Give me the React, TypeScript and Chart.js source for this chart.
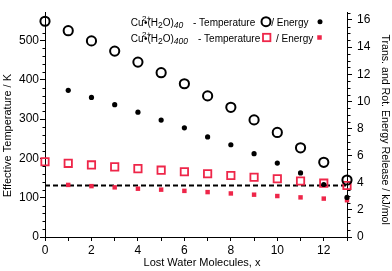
import React, { useEffect, useRef } from 'react';
import { Chart, registerables } from 'chart.js';

Chart.register(...registerables);

// ---- data ----
const lostWater = [0, 1, 2, 3, 4, 5, 6, 7, 8, 9, 10, 11, 12, 13];
const tempH2O40 = [549, 525, 499, 473, 445, 418, 390, 359, 330, 298, 266, 227, 190, 145];
const energyH2O40 = [null, 10.81, 10.29, 9.75, 9.2, 8.62, 8.05, 7.38, 6.8, 6.14, 5.45, 4.72, 3.87, 2.92];
const tempH2O400 = [191.5, 187.5, 183.4, 178.5, 174, 170, 166, 161, 156.5, 152, 148.3, 142.5, 137, 131];
const energyH2O400 = [null, 3.84, 3.75, 3.66, 3.56, 3.49, 3.4, 3.31, 3.21, 3.12, 3.02, 2.92, 2.83, 2.71];
const referenceLineX = [0, 13];
const referenceLineTemp = [131, 131];

const xTicks = [0, 2, 4, 6, 8, 10, 12];
const leftTicks = [0, 100, 200, 300, 400, 500];
const rightTicks = [0, 2, 4, 6, 8, 10, 12, 14, 16];

const xTitle = 'Lost Water Molecules, x';
const leftTitle = 'Effective Temperature / K';
const rightTitle = 'Trans. and Rot. Energy Release / kJ/mol';

const FONT = "'Liberation Sans', Arial, Helvetica, sans-serif";
const RED = '#ee2649';
const BLACK = '#000000';

const pts = (xs: number[], ys: (number | null)[]) =>
  xs.map((x, i) => ({ x, y: ys[i] as number })).filter((p) => p.y !== null);

// minor tick marks
const minorTicksPlugin = {
  id: 'minorTicks',
  afterDraw(chart: any) {
    const c = chart.ctx;
    const yl = chart.scales.y;
    const yr = chart.scales.y2;
    c.save();
    c.strokeStyle = BLACK;
    c.lineWidth = 1;
    for (let v = 20; v <= yl.max; v += 20) {
      if (v % 100 === 0) continue;
      const py = Math.round(yl.getPixelForValue(v)) + 0.5;
      const px = Math.round(yl.right) + 0.5;
      c.beginPath();
      c.moveTo(px - 3, py);
      c.lineTo(px, py);
      c.stroke();
    }
    for (let v = 0.5; v <= yr.max; v += 0.5) {
      if (Math.abs(v % 2) < 1e-6) continue;
      const py = Math.round(yr.getPixelForValue(v)) + 0.5;
      const px = Math.round(yr.left) + 0.5;
      c.beginPath();
      c.moveTo(px, py);
      c.lineTo(px + 3, py);
      c.stroke();
    }
    c.restore();
  },
};

// axis titles
const titlesPlugin = {
  id: 'axisTitles',
  afterDraw(chart: any) {
    const c = chart.ctx;
    const a = chart.chartArea;
    const midX = (a.left + a.right) / 2;
    const midY = (a.top + a.bottom) / 2;
    c.save();
    c.fillStyle = BLACK;
    c.textAlign = 'center';
    c.textBaseline = 'middle';
    c.font = `11px ${FONT}`;
    c.fillText(xTitle, midX + 6, chart.height - 8);
    c.save();
    c.translate(8, midY + 11);
    c.rotate(-Math.PI / 2);
    c.fillText(leftTitle, 0, 0);
    c.restore();
    c.font = `10.6px ${FONT}`;
    c.save();
    c.translate(chart.width - 7, midY + 5);
    c.rotate(Math.PI / 2);
    c.fillText(rightTitle, 0, 0);
    c.restore();
    c.restore();
  },
};

type Part = { t?: string; size?: number; dy?: number; italic?: boolean; dx?: number; at?: number; noAdvance?: boolean; marker?: string };

// "at" = offset from the legend's left edge
const legendLine1: Part[] = [
  { t: 'Cu' },
  { t: '2+', size: 8, dy: -5, dx: -1.5, noAdvance: true },
  { t: '\u2022(H', dx: 2 },
  { t: '2', size: 8.5, dy: 2.5 },
  { t: 'O)' },
  { t: '40', size: 8.5, dy: 2.5, italic: true },
  { t: '- Temperature', at: 62.3 },
  { marker: 'circle', at: 135.3 },
  { t: '/ Energy', at: 140.5 },
  { marker: 'dot', at: 189.3 },
];
const legendLine2: Part[] = [
  { t: 'Cu' },
  { t: '2+', size: 8, dy: -5, dx: -1.5, noAdvance: true },
  { t: '\u2022(H', dx: 2 },
  { t: '2', size: 8.5, dy: 2.5 },
  { t: 'O)' },
  { t: '400', size: 8.5, dy: 2.5, italic: true },
  { t: '- Temperature', at: 67.3 },
  { marker: 'square', at: 136 },
  { t: '/ Energy', at: 145.3 },
  { marker: 'smallSquare', at: 188.8 },
];

const legendPlugin = {
  id: 'customLegend',
  afterDraw(chart: any) {
    const c = chart.ctx;
    const startX = chart.chartArea.left + 85.7;
    const lines: [Part[], number][] = [
      [legendLine1, chart.chartArea.top + 13.5],
      [legendLine2, chart.chartArea.top + 29.3],
    ];
    c.save();
    c.textBaseline = 'alphabetic';
    c.textAlign = 'left';
    for (const [parts, base] of lines) {
      let x = startX;
      for (const p of parts) {
        if (p.marker) {
          const cx = startX + (p.at || 0);
          const cy = base - 4;
          if (p.marker === 'circle') {
            c.beginPath();
            c.arc(cx, cy, 4.5, 0, Math.PI * 2);
            c.lineWidth = 2;
            c.strokeStyle = BLACK;
            c.stroke();
          } else if (p.marker === 'dot') {
            c.beginPath();
            c.arc(cx, cy, 2.5, 0, Math.PI * 2);
            c.fillStyle = BLACK;
            c.fill();
          } else if (p.marker === 'square') {
            const s = 7.4;
            c.lineWidth = 1.8;
            c.strokeStyle = RED;
            c.strokeRect(cx - s / 2, cy - s / 2, s, s);
          } else if (p.marker === 'smallSquare') {
            const s = 4.5;
            c.fillStyle = RED;
            c.fillRect(cx - s / 2, cy - s / 2, s, s);
          }
          continue;
        }
        const size = p.size || 10;
        c.font = `${p.italic ? 'italic ' : ''}${size}px ${FONT}`;
        if (p.at !== undefined) x = startX + p.at;
        x += p.dx || 0;
        c.fillStyle = BLACK;
        c.fillText(p.t as string, x, base + (p.dy || 0));
        if (!p.noAdvance) x += c.measureText(p.t as string).width;
      }
    }
    c.restore();
  },
};

export default function App() {
  const ref = useRef<HTMLCanvasElement>(null);
  useEffect(() => {
    const canvas = ref.current;
    if (!canvas) return;
    const tickFont = { family: FONT, size: 12 };
    const chart = new Chart(canvas, {
      type: 'scatter',
      data: {
        datasets: [
          {
            label: 'reference',
            data: pts(referenceLineX, referenceLineTemp),
            yAxisID: 'y',
            showLine: true,
            borderColor: BLACK,
            borderWidth: 2,
            borderDash: [5, 3],
            pointRadius: 0,
            clip: false,
            order: 5,
          } as any,
          {
            label: 'Cu(H2O)400 Energy',
            data: pts(lostWater, energyH2O400),
            yAxisID: 'y2',
            pointStyle: 'rect',
            pointRadius: 3.15,
            backgroundColor: RED,
            borderWidth: 0,
            clip: false,
            order: 4,
          } as any,
          {
            label: 'Cu(H2O)400 Temperature',
            data: pts(lostWater, tempH2O400),
            yAxisID: 'y',
            pointStyle: 'rect',
            pointRadius: 5.2,
            backgroundColor: 'rgba(0,0,0,0)',
            borderColor: RED,
            borderWidth: 1.8,
            clip: false,
            order: 3,
          } as any,
          {
            label: 'Cu(H2O)40 Energy',
            data: pts(lostWater, energyH2O40),
            yAxisID: 'y2',
            pointStyle: 'circle',
            pointRadius: 2.6,
            backgroundColor: BLACK,
            borderWidth: 0,
            clip: false,
            order: 2,
          } as any,
          {
            label: 'Cu(H2O)40 Temperature',
            data: pts(lostWater, tempH2O40),
            yAxisID: 'y',
            pointStyle: 'circle',
            pointRadius: 4.6,
            backgroundColor: 'rgba(0,0,0,0)',
            borderColor: BLACK,
            borderWidth: 2,
            clip: false,
            order: 1,
          } as any,
        ],
      },
      options: {
        animation: false,
        responsive: false,
        maintainAspectRatio: false,
        events: [],
        layout: { padding: { top: 3, left: 0, right: 0, bottom: 0 } },
        plugins: { legend: { display: false }, tooltip: { enabled: false }, title: { display: false } },
        scales: {
          x: {
            type: 'linear',
            position: 'bottom',
            min: 0,
            max: 13,
            ticks: {
              stepSize: 1,
              autoSkip: false,
              maxRotation: 0,
              color: BLACK,
              font: tickFont,
              padding: 2,
              callback: (v: any) => (xTicks.includes(Number(v)) ? String(v) : ''),
            },
            grid: { drawOnChartArea: false, drawTicks: true, tickLength: 4, tickColor: BLACK },
            border: { display: true, color: BLACK, width: 1 },
            afterFit: (s: any) => {
              s.height = 34;
            },
          },
          y: {
            type: 'linear',
            position: 'left',
            min: 0,
            max: 572,
            ticks: {
              stepSize: 100,
              includeBounds: false,
              color: BLACK,
              font: tickFont,
              padding: 1,
              callback: (v: any) => (leftTicks.includes(Number(v)) ? String(v) : ''),
            },
            grid: { drawOnChartArea: false, drawTicks: true, tickLength: 5, tickColor: BLACK },
            border: { display: true, color: BLACK, width: 1 },
            afterFit: (s: any) => {
              s.width = 45;
            },
          },
          y2: {
            type: 'linear',
            position: 'right',
            min: 0,
            max: 16.57,
            ticks: {
              stepSize: 2,
              includeBounds: false,
              color: BLACK,
              font: tickFont,
              padding: 5,
              callback: (v: any) => (rightTicks.includes(Number(v)) ? String(v) : ''),
            },
            grid: { drawOnChartArea: false, drawTicks: true, tickLength: 5, tickColor: BLACK },
            border: { display: true, color: BLACK, width: 1 },
            afterFit: (s: any) => {
              s.width = 45;
            },
          },
        },
      } as any,
      plugins: [minorTicksPlugin, titlesPlugin, legendPlugin],
    });
    return () => chart.destroy();
  }, []);
  return (
    <div style={{ position: 'fixed', left: 0, top: 0, width: 392, height: 271, background: '#fff' }}>
      <canvas ref={ref} width={392} height={271} style={{ display: 'block', width: 392, height: 271 }} />
    </div>
  );
}
